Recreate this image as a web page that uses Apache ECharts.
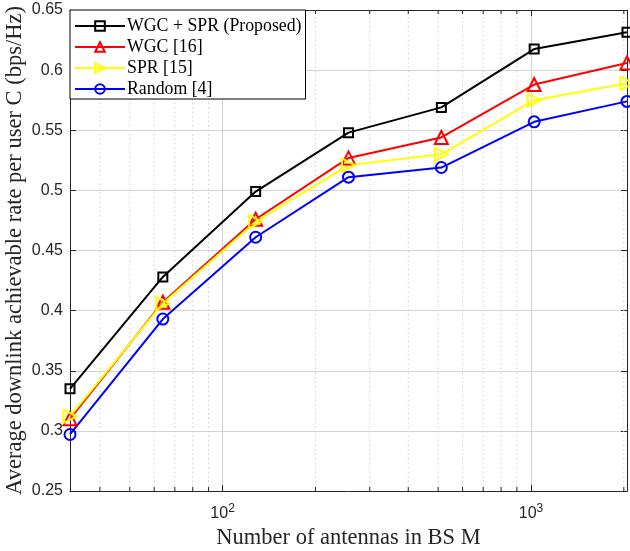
<!DOCTYPE html>
<html>
<head>
<meta charset="utf-8">
<script src="https://cdn.jsdelivr.net/npm/echarts@6/dist/echarts.min.js"></script>
<style>
  html, body { margin: 0; padding: 0; background: #fff; }
  #chart { width: 630px; height: 551px; }
</style>
</head>
<body>
<div id="chart"></div>
<script>
// Number of BS antennas (log-scaled x axis)
const antennas = [32, 64, 128, 256, 512, 1024, 2048];

// Average downlink achievable rate per user (bps/Hz)
const wgcSpr = [0.335, 0.428, 0.499, 0.548, 0.569, 0.6175, 0.6315];
const wgc    = [0.310, 0.407, 0.476, 0.527, 0.544, 0.588, 0.606];
const spr    = [0.312, 0.406, 0.474, 0.521, 0.530, 0.575, 0.589];
const rnd    = [0.297, 0.393, 0.461, 0.511, 0.519, 0.557, 0.574];

const seriesNames = ['WGC + SPR (Proposed)', 'WGC [16]', 'SPR [15]', 'Random [4]'];

// Axis ranges and minor log-decade positions
const xMin = 32, xMax = 2048;
const yMin = 0.25, yMax = 0.65, yStep = 0.05;
const minorX = [40, 50, 60, 70, 80, 90, 200, 300, 400, 500, 600, 700, 800, 900, 2000];

const sansFont = 'Liberation Sans, Arial, sans-serif';
const serifFont = 'Liberation Serif, Times New Roman, serif';
const axisColor = '#262626';

function pairs(ys) {
  return antennas.map((m, i) => [m, ys[i]]);
}

function lineSeries(name, ys, color, symbol, size, rotate) {
  return {
    name: name,
    type: 'line',
    data: pairs(ys),
    symbol: symbol,
    symbolSize: size,
    symbolRotate: rotate || 0,
    showAllSymbol: true,
    clip: false,
    lineStyle: { color: color, width: 2 },
    itemStyle: { color: 'rgba(255,255,255,0)', borderColor: color, borderWidth: 2 },
    emphasis: { disabled: true },
    z: 3
  };
}

const chart = echarts.init(document.getElementById('chart'));

chart.setOption({
  animation: false,
  backgroundColor: '#fff',
  grid: { left: 70, right: 3, top: 10, bottom: 60, containLabel: false, outerBoundsMode: 'none' },
  legend: {
    data: seriesNames,
    orient: 'vertical',
    left: 70,
    top: 10,
    padding: [7, 4, 1, 4],
    itemGap: 3,
    itemWidth: 50,
    itemHeight: 12,
    symbolRotate: 'inherit',
    backgroundColor: '#fff',
    borderColor: '#000',
    borderWidth: 1,
    borderRadius: 0,
    textStyle: { fontFamily: serifFont, fontSize: 17.8, color: '#000', lineHeight: 17, padding: [0, 0, 0, -3] }
  },
  xAxis: [{
    type: 'log',
    logBase: 10,
    min: xMin,
    max: xMax,
    name: 'Number of antennas in BS M',
    nameLocation: 'middle',
    nameGap: 36,
    nameTextStyle: { fontFamily: serifFont, fontSize: 22.5, color: axisColor },
    axisLine: { lineStyle: { color: axisColor, width: 1 } },
    axisTick: { inside: true, length: 6, lineStyle: { color: axisColor } },
    axisLabel: {
      margin: 12,
      formatter: function (v) {
        const e = Math.round(Math.log10(v));
        if (Math.abs(Math.pow(10, e) - v) > 1e-6) return '';
        return '{b|10}{s|' + e + '}';
      },
      rich: {
        b: { fontFamily: sansFont, fontSize: 16, color: axisColor },
        s: { fontFamily: sansFont, fontSize: 12, color: axisColor, verticalAlign: 'bottom', padding: [0, 0, 9, 0] }
      }
    },
    splitLine: { show: true, lineStyle: { color: '#d4d4d4', width: 1.2 } }
  }, {
    type: 'log',
    logBase: 10,
    min: xMin,
    max: xMax,
    position: 'top',
    axisLine: { lineStyle: { color: axisColor, width: 1 } },
    axisTick: { inside: true, length: 6, lineStyle: { color: axisColor } },
    axisLabel: { show: false },
    splitLine: { show: false }
  }],
  yAxis: [{
    type: 'value',
    min: yMin,
    max: yMax,
    interval: yStep,
    name: 'Average downlink achievable rate per user C (bps/Hz)',
    nameLocation: 'middle',
    nameGap: 43,
    nameMoveOverlap: false,
    nameTextStyle: { fontFamily: serifFont, fontSize: 22.5, color: axisColor },
    axisLine: { show: true, lineStyle: { color: axisColor, width: 1 } },
    axisTick: { show: true, inside: true, length: 6, lineStyle: { color: axisColor } },
    axisLabel: { fontFamily: sansFont, fontSize: 16, color: axisColor, margin: 7 },
    splitLine: { show: true, lineStyle: { color: '#d4d4d4', width: 1.2 } }
  }, {
    type: 'value',
    min: yMin,
    max: yMax,
    interval: yStep,
    position: 'right',
    axisLine: { show: true, lineStyle: { color: axisColor, width: 1 } },
    axisTick: { show: true, inside: true, length: 6, lineStyle: { color: axisColor } },
    axisLabel: { show: false },
    splitLine: { show: false }
  }],
  series: [
    {
      // dotted minor grid lines and minor ticks of the log axis
      type: 'custom',
      silent: true,
      z: 1,
      clip: false,
      data: minorX.map(m => [m, yMin]),
      encode: { x: 0, y: 1 },
      renderItem: function (params, api) {
        const m = api.value(0);
        const b = api.coord([m, yMin]);
        const t = api.coord([m, yMax]);
        return {
          type: 'group',
          children: [
            { type: 'line', shape: { x1: b[0], y1: b[1], x2: t[0], y2: t[1] },
              style: { stroke: '#cfcfcf', lineWidth: 1, lineDash: [1.5, 3] } },
            { type: 'line', shape: { x1: b[0], y1: b[1], x2: b[0], y2: b[1] - 4 },
              style: { stroke: axisColor, lineWidth: 1 } },
            { type: 'line', shape: { x1: t[0], y1: t[1], x2: t[0], y2: t[1] + 4 },
              style: { stroke: axisColor, lineWidth: 1 } }
          ]
        };
      }
    },
    lineSeries(seriesNames[0], wgcSpr, '#000000', 'rect', 9),
    lineSeries(seriesNames[1], wgc, '#ff0000', 'triangle', 13),
    lineSeries(seriesNames[2], spr, '#ffff00', 'triangle', 13, -90),
    lineSeries(seriesNames[3], rnd, '#0000ff', 'circle', 11)
  ]
});
</script>
</body>
</html>
